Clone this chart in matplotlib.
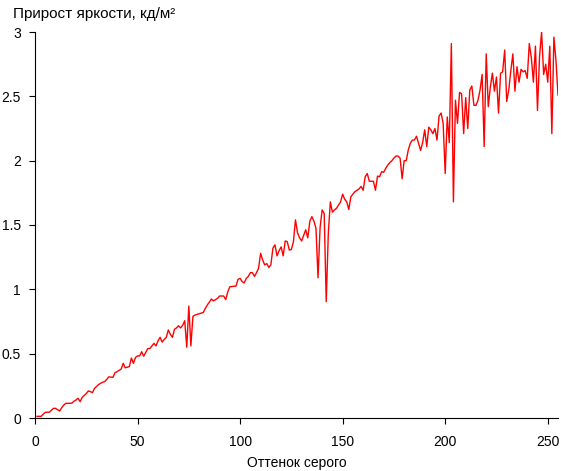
import matplotlib
matplotlib.use("Agg")
import matplotlib.pyplot as plt
import numpy as np

plt.rcParams['font.family'] = ['Liberation Sans', 'DejaVu Sans']

title_text = "Прирост яркости, кд/м²"
x_label = "Оттенок серого"
x_ticks = [0, 50, 100, 150, 200, 250]
y_ticks = [0, 0.5, 1, 1.5, 2, 2.5, 3]
y_tick_labels = ["0", "0.5", "1", "1.5", "2", "2.5", "3"]

gray_level = list(range(1, 256))
brightness_gain = [
    0.013, 0.013, 0.013, 0.030, 0.044, 0.045, 0.045, 0.060, 0.075, 0.075,
    0.065, 0.054, 0.080, 0.100, 0.114, 0.114, 0.114, 0.116, 0.130, 0.140,
    0.153, 0.127, 0.160, 0.175, 0.190, 0.210, 0.205, 0.197, 0.230, 0.245,
    0.260, 0.270, 0.278, 0.283, 0.300, 0.320, 0.318, 0.316, 0.352, 0.360,
    0.370, 0.380, 0.425, 0.390, 0.395, 0.400, 0.466, 0.425, 0.470, 0.483,
    0.482, 0.515, 0.480, 0.510, 0.540, 0.540, 0.560, 0.580, 0.560, 0.600,
    0.627, 0.590, 0.610, 0.627, 0.684, 0.650, 0.627, 0.690, 0.700, 0.717,
    0.700, 0.720, 0.756, 0.550, 0.870, 0.560, 0.790, 0.800, 0.805, 0.810,
    0.815, 0.820, 0.850, 0.878, 0.900, 0.925, 0.910, 0.920, 0.930, 0.948,
    0.948, 0.948, 0.920, 0.980, 1.020, 1.022, 1.024, 1.025, 1.078, 1.085,
    1.060, 1.050, 1.085, 1.100, 1.130, 1.130, 1.100, 1.130, 1.163, 1.280,
    1.228, 1.190, 1.200, 1.170, 1.190, 1.320, 1.346, 1.260, 1.300, 1.330,
    1.260, 1.376, 1.370, 1.305, 1.310, 1.370, 1.540, 1.440, 1.400, 1.376,
    1.420, 1.463, 1.400, 1.530, 1.565, 1.530, 1.474, 1.090, 1.480, 1.617,
    1.590, 0.904, 1.430, 1.680, 1.600, 1.617, 1.630, 1.655, 1.680, 1.740,
    1.700, 1.680, 1.620, 1.720, 1.740, 1.760, 1.770, 1.780, 1.800, 1.770,
    1.875, 1.900, 1.840, 1.840, 1.840, 1.770, 1.880, 1.875, 1.914, 1.910,
    1.940, 1.966, 1.985, 2.000, 2.020, 2.036, 2.036, 2.020, 1.860, 2.000,
    2.000, 2.083, 2.135, 2.160, 2.160, 2.190, 2.135, 2.080, 2.140, 2.240,
    2.110, 2.260, 2.240, 2.210, 2.250, 2.160, 2.347, 2.370, 2.290, 1.900,
    2.340, 2.140, 2.910, 1.680, 2.470, 2.290, 2.530, 2.520, 2.210, 2.490,
    2.250, 2.550, 2.580, 2.430, 2.430, 2.470, 2.550, 2.670, 2.110, 2.830,
    2.420, 2.570, 2.680, 2.540, 2.650, 2.370, 2.680, 2.690, 2.860, 2.460,
    2.550, 2.700, 2.830, 2.540, 2.730, 2.610, 2.710, 2.690, 2.700, 2.640,
    2.910, 2.800, 2.610, 2.890, 2.390, 2.810, 3.000, 2.670, 2.750, 2.610,
    2.890, 2.210, 2.960, 2.780, 2.510,
]
assert len(brightness_gain) == len(gray_level)

W, H = 561, 471
fig = plt.figure(figsize=(W / 100, H / 100), dpi=100)
ax = fig.add_axes([35 / W, (H - 418) / H, (558 - 35) / W, (418 - 32) / H])

ax.plot(gray_level, brightness_gain, color="#ff0000", lw=1.0)

ax.set_xlim(0, 255)
ax.set_ylim(0, 3)
ax.set_xticks(x_ticks)
ax.set_xticklabels([str(t) for t in x_ticks])
ax.set_yticks(y_ticks)
ax.set_yticklabels(y_tick_labels)
for s in ("top", "right"):
    ax.spines[s].set_visible(False)
for s in ("left", "bottom"):
    ax.spines[s].set_linewidth(0.8)
ax.tick_params(axis="both", direction="out", length=4, width=0.8,
               labelsize=10, colors="black")
ax.tick_params(axis="x", pad=8)
ax.tick_params(axis="y", pad=6)
ax.set_xlabel(x_label, fontsize=10, labelpad=5)

fig.text(13 / W, 1 - 18 / H, title_text, fontsize=11, ha="left",
         va="baseline")

fig.savefig("out.png", dpi=100)
